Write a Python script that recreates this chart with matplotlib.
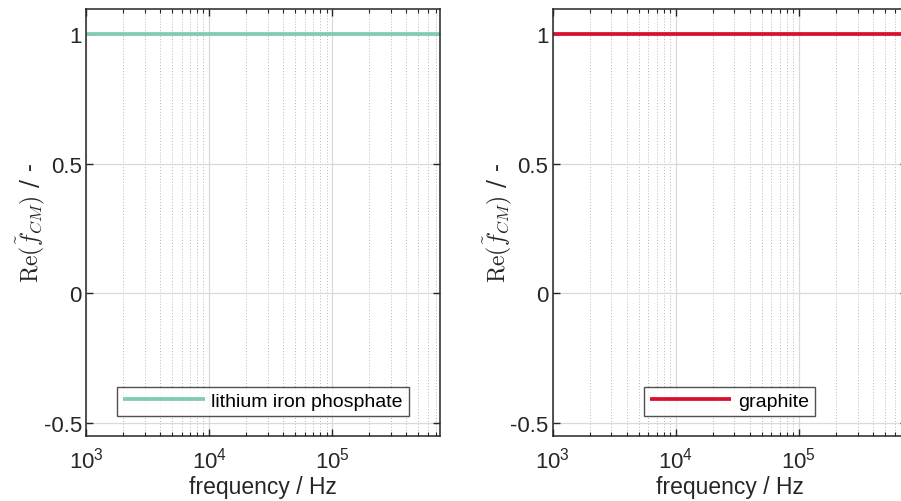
import matplotlib
matplotlib.use("Agg")
import matplotlib.pyplot as plt
from matplotlib.ticker import LogLocator, NullFormatter

plt.rcParams['font.family'] = ['Liberation Sans', 'DejaVu Sans']
plt.rcParams['mathtext.fontset'] = 'cm'

# data
freq = [1e3, 1e4, 1e5, 7.5e5]
re_lfp = [1.0, 1.0, 1.0, 1.0]
re_graphite = [1.0, 1.0, 1.0, 1.0]
labels = ["lithium iron phosphate", "graphite"]
colors = ["#82cbb3", "#d7102f"]
yticks = [-0.5, 0, 0.5, 1]
yticklabels = ["-0.5", "0", "0.5", "1"]

fig = plt.figure(figsize=(9.01, 5.02), dpi=100)
W, H = 901, 502

def px_axes(x0, y0, x1, y1):
    return fig.add_axes([x0 / W, 1 - y1 / H, (x1 - x0) / W, (y1 - y0) / H])

ax1 = px_axes(86, 9.5, 440, 436.5)
ax2 = px_axes(552.5, 9.5, 906.5, 436.5)

for ax, y, lab, c in [(ax1, re_lfp, labels[0], colors[0]),
                      (ax2, re_graphite, labels[1], colors[1])]:
    ax.plot(freq, y, color=c, lw=2.7, label=lab, solid_capstyle='butt')
    ax.set_xscale('log')
    ax.set_xlim(1e3, 7.5e5)
    ax.set_ylim(-0.55, 1.1)
    ax.set_yticks(yticks)
    ax.set_yticklabels(yticklabels)
    ax.xaxis.set_minor_locator(LogLocator(base=10, subs=range(2, 10)))
    ax.xaxis.set_minor_formatter(NullFormatter())
    ax.grid(True, which='major', color='#d9d9d9', lw=0.9, ls='-')
    ax.grid(True, which='minor', axis='x', color='#b8b8b8', lw=0.7, ls=(0, (1, 2)))
    ax.set_axisbelow(True)
    ax.tick_params(which='both', direction='in', top=True, right=True,
                   colors='#262626', labelcolor='#262626', labelsize=16)
    ax.tick_params(which='major', length=5, width=1)
    ax.tick_params(which='minor', length=3, width=0.8)
    ax.tick_params(axis='x', which='major', pad=8)
    ax.tick_params(axis='y', which='major', pad=3)
    for s in ax.spines.values():
        s.set_color('#262626')
        s.set_linewidth(1.1)
    ax.set_xlabel("frequency / Hz", fontsize=16.5, color='#262626', labelpad=2)
    ax.set_ylabel(r"$\mathrm{Re}(\tilde{f}_{CM})$ / -", fontsize=17,
                  family='serif', color='#262626')
    ax.yaxis.set_label_coords(-0.11, 0.5)
    leg = ax.legend(loc='lower center', fontsize=14, handlelength=4.2,
                    frameon=True, fancybox=False, borderaxespad=1.0,
                    borderpad=0.3, handletextpad=0.35)
    leg.get_frame().set_edgecolor('#262626')
    leg.get_frame().set_linewidth(1.0)

fig.savefig("out.png", dpi=100)
